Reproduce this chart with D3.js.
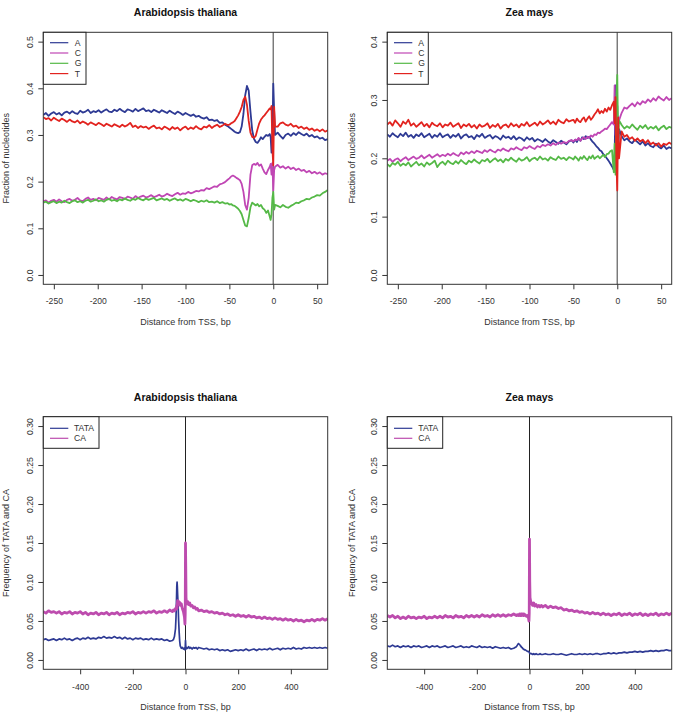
<!DOCTYPE html>
<html><head><meta charset="utf-8">
<script src="https://cdn.jsdelivr.net/npm/d3@7"></script>
<style>body{margin:0;background:#fff}svg text{font-family:"Liberation Sans",Arial,sans-serif}</style>
</head><body><svg id="c" width="681" height="712"></svg>
<script>
// ---------- data: nucleotide fractions (bp relative to TSS) ----------
const nucX = [-262,-259,-256,-253,-250,-247,-244,-241,-238,-235,-232,-229,-226,-223,-220,-217,-214,-211,-208,-205,
-202,-199,-196,-193,-190,-187,-184,-181,-178,-175,-172,-169,-166,-163,-160,-157,-154,-151,-148,-145,
-142,-139,-136,-133,-130,-127,-124,-121,-118,-115,-112,-109,-106,-103,-100,-97,-94,-91,-88,-85,
-82,-79,-76,-73,-70,-67,-64,-61,-58,-55,-52,
-50,-48,-46,-44,-42,-40,-38,-36,-34,-32,-30,-28,-26,-24,-22,-20,-18,-16,-14,-12,-10,-8,-6,-4,
-3,-2,-1,0,1,2,
5,8,11,14,17,20,23,26,29,32,35,38,41,44,47,50,53,56,59,62];
const nucLetters = ["A","C","G","T"];

const athA = [0.343,0.347,0.341,0.346,0.349,0.344,0.347,0.342,0.348,0.350,
0.346,0.351,0.347,0.345,0.352,0.348,0.350,0.354,0.347,0.351,
0.349,0.353,0.348,0.352,0.355,0.350,0.349,0.354,0.351,0.356,
0.352,0.349,0.355,0.353,0.350,0.356,0.351,0.354,0.357,0.351,
0.353,0.349,0.354,0.351,0.348,0.353,0.350,0.347,0.352,0.348,
0.345,0.350,0.347,0.343,0.347,0.344,0.341,0.344,0.339,0.341,
0.337,0.335,0.338,0.332,0.333,0.330,0.332,0.326,0.327,0.322,
0.319,
0.316,0.313,0.310,0.307,0.305,0.304,0.306,0.318,0.345,0.385,0.405,0.395,0.350,0.310,0.292,0.285,0.283,0.288,0.295,0.291,0.296,0.300,0.298,0.302,
0.295,0.262,0.300,0.410,0.350,0.300,
0.305,0.298,0.292,0.300,0.303,0.298,0.304,0.300,0.306,0.302,0.299,0.303,0.297,0.300,0.295,0.297,0.292,0.294,0.289,0.291];
const athC = [0.158,0.160,0.155,0.159,0.161,0.157,0.162,0.158,0.156,0.161,
0.163,0.159,0.161,0.165,0.160,0.158,0.163,0.166,0.161,0.163,
0.160,0.165,0.163,0.161,0.166,0.162,0.167,0.164,0.162,0.167,
0.165,0.163,0.168,0.166,0.163,0.169,0.165,0.168,0.170,0.166,
0.168,0.171,0.167,0.169,0.172,0.168,0.170,0.174,0.171,0.169,
0.173,0.176,0.172,0.175,0.174,0.178,0.175,0.177,0.180,0.179,
0.182,0.181,0.186,0.184,0.187,0.190,0.189,0.194,0.196,0.199,
0.204,
0.207,0.211,0.213,0.211,0.208,0.206,0.203,0.195,0.178,0.150,0.140,0.165,0.215,0.235,0.238,0.236,0.240,0.234,0.237,0.228,0.220,0.216,0.225,0.232,
0.238,0.215,0.240,0.180,0.225,0.232,
0.236,0.230,0.233,0.228,0.232,0.227,0.230,0.225,0.228,0.223,0.225,0.220,0.223,0.218,0.221,0.217,0.220,0.215,0.218,0.216];
const athG = [0.155,0.157,0.153,0.156,0.158,0.154,0.157,0.155,0.159,0.156,
0.154,0.158,0.160,0.156,0.158,0.155,0.159,0.161,0.157,0.159,
0.162,0.158,0.160,0.157,0.161,0.163,0.159,0.161,0.158,0.162,
0.160,0.164,0.161,0.159,0.163,0.161,0.165,0.162,0.160,0.164,
0.161,0.163,0.165,0.160,0.162,0.164,0.161,0.163,0.159,0.162,
0.164,0.160,0.162,0.159,0.163,0.161,0.158,0.161,0.159,0.156,
0.159,0.157,0.160,0.156,0.157,0.155,0.158,0.154,0.156,0.153,
0.154,
0.151,0.152,0.149,0.148,0.145,0.142,0.137,0.130,0.118,0.106,0.104,0.122,0.145,0.155,0.152,0.149,0.152,0.147,0.150,0.143,0.140,0.133,0.138,0.125,
0.118,0.130,0.165,0.178,0.140,0.150,
0.148,0.145,0.150,0.146,0.144,0.148,0.151,0.155,0.154,0.158,0.160,0.163,0.162,0.166,0.168,0.171,0.170,0.175,0.178,0.182];
const athT = [0.338,0.334,0.336,0.331,0.337,0.333,0.330,0.335,0.332,0.328,
0.333,0.329,0.327,0.331,0.325,0.329,0.326,0.322,0.327,0.324,
0.321,0.326,0.323,0.319,0.324,0.321,0.318,0.323,0.320,0.317,
0.322,0.318,0.321,0.326,0.317,0.320,0.315,0.319,0.316,0.318,
0.313,0.317,0.320,0.314,0.316,0.312,0.318,0.315,0.311,0.317,
0.313,0.316,0.310,0.315,0.318,0.312,0.316,0.313,0.319,0.314,
0.312,0.318,0.316,0.321,0.315,0.319,0.322,0.317,0.320,0.324,
0.321,
0.322,0.325,0.327,0.330,0.336,0.342,0.350,0.360,0.375,0.382,0.365,0.330,0.305,0.296,0.294,0.298,0.312,0.325,0.333,0.338,0.342,0.347,0.352,0.357,
0.355,0.362,0.270,0.235,0.360,0.318,
0.318,0.325,0.327,0.322,0.320,0.324,0.318,0.320,0.315,0.318,0.313,0.316,0.311,0.314,0.309,0.312,0.308,0.312,0.307,0.310];

const zmaA = [0.241,0.237,0.243,0.239,0.236,0.242,0.238,0.244,0.237,0.240,
0.235,0.241,0.238,0.243,0.236,0.239,0.242,0.235,0.240,0.237,
0.243,0.236,0.239,0.241,0.235,0.240,0.237,0.242,0.234,0.239,
0.241,0.236,0.238,0.233,0.240,0.237,0.242,0.235,0.238,0.240,
0.234,0.238,0.236,0.232,0.239,0.235,0.237,0.233,0.238,0.232,
0.236,0.234,0.230,0.236,0.232,0.235,0.229,0.233,0.231,0.228,
0.233,0.229,0.226,0.231,0.228,0.225,0.230,0.227,0.224,0.229,
0.231,
0.227,0.232,0.228,0.234,0.230,0.236,0.233,0.238,0.235,0.237,0.232,0.228,0.225,0.221,0.218,0.214,0.212,0.207,0.204,0.200,0.196,0.191,0.186,0.180,
0.200,0.325,0.180,0.290,0.210,0.250,
0.238,0.231,0.234,0.229,0.226,0.232,0.228,0.224,0.229,0.222,0.226,0.221,0.219,0.225,0.220,0.217,0.222,0.216,0.219,0.217];
const zmaC = [0.196,0.199,0.194,0.198,0.200,0.195,0.199,0.202,0.197,0.200,
0.203,0.199,0.201,0.205,0.200,0.203,0.206,0.201,0.204,0.207,
0.203,0.206,0.204,0.208,0.205,0.209,0.206,0.204,0.210,0.207,
0.211,0.208,0.212,0.209,0.213,0.211,0.209,0.214,0.211,0.215,
0.212,0.210,0.215,0.213,0.217,0.214,0.212,0.217,0.215,0.219,
0.216,0.214,0.219,0.217,0.221,0.218,0.216,0.221,0.219,0.223,
0.221,0.224,0.222,0.226,0.223,0.227,0.225,0.228,0.226,0.230,
0.231,
0.229,0.232,0.231,0.235,0.230,0.234,0.236,0.233,0.237,0.235,0.239,0.237,0.241,0.240,0.244,0.243,0.246,0.248,0.251,0.250,0.254,0.258,0.262,0.258,
0.325,0.240,0.300,0.200,0.270,0.265,
0.278,0.287,0.285,0.290,0.294,0.289,0.296,0.292,0.298,0.295,0.301,0.297,0.303,0.299,0.306,0.302,0.299,0.305,0.300,0.303];
const zmaG = [0.190,0.186,0.192,0.189,0.194,0.187,0.191,0.188,0.193,0.186,
0.190,0.194,0.188,0.191,0.186,0.193,0.189,0.192,0.196,0.185,
0.191,0.194,0.189,0.196,0.192,0.190,0.195,0.191,0.197,0.193,
0.190,0.196,0.193,0.198,0.194,0.191,0.197,0.195,0.199,0.193,
0.197,0.200,0.195,0.198,0.193,0.199,0.196,0.201,0.197,0.194,
0.200,0.196,0.198,0.202,0.195,0.199,0.201,0.197,0.203,0.198,
0.200,0.196,0.202,0.199,0.197,0.203,0.199,0.201,0.197,0.202,
0.200,
0.198,0.203,0.200,0.196,0.202,0.199,0.204,0.200,0.197,0.203,0.200,0.205,0.199,0.202,0.204,0.200,0.203,0.206,0.202,0.207,0.208,0.212,0.214,0.176,
0.225,0.172,0.300,0.343,0.230,0.265,
0.257,0.251,0.255,0.252,0.258,0.253,0.249,0.256,0.252,0.257,0.250,0.254,0.251,0.255,0.248,0.253,0.256,0.250,0.254,0.252];
const zmaT = [0.258,0.262,0.256,0.265,0.260,0.254,0.263,0.259,0.266,0.256,
0.260,0.254,0.258,0.262,0.255,0.259,0.253,0.261,0.257,0.255,
0.260,0.253,0.258,0.256,0.261,0.254,0.257,0.260,0.252,0.258,
0.255,0.259,0.253,0.257,0.251,0.258,0.254,0.256,0.260,0.252,
0.257,0.254,0.259,0.251,0.256,0.258,0.253,0.260,0.255,0.258,
0.253,0.259,0.256,0.262,0.255,0.258,0.261,0.256,0.263,0.258,
0.261,0.265,0.259,0.263,0.258,0.266,0.262,0.260,0.267,0.263,
0.265,
0.266,0.261,0.268,0.264,0.262,0.267,0.270,0.263,0.268,0.272,0.266,0.270,0.275,0.279,0.284,0.277,0.281,0.278,0.285,0.280,0.287,0.283,0.291,0.297,
0.260,0.305,0.190,0.145,0.270,0.200,
0.246,0.237,0.240,0.233,0.236,0.230,0.234,0.229,0.232,0.226,0.231,0.224,0.227,0.222,0.226,0.220,0.225,0.223,0.227,0.224];

// ---------- data: TATA / CA frequencies ----------
const motifX = [-540,-530,-520,-510,-500,-490,-480,-470,-460,-450,-440,-430,-420,-410,-400,-390,-380,-370,-360,-350,
-340,-330,-320,-310,-300,-290,-280,-270,-260,-250,-240,-230,-220,-210,-200,-190,-180,-170,-160,-150,
-140,-130,-120,-110,-100,-90,-80,-70,-60,-50,
-46,-42,-38,-36,-34,-33,-32,-31,-30,-28,-26,-24,-22,-20,-16,-12,-8,-4,-2,-1,0,1,2,4,8,12,16,20,25,30,35,40,45,
50,60,70,80,90,100,110,120,130,140,150,160,170,180,190,200,210,220,230,240,
250,260,270,280,290,300,310,320,330,340,350,360,370,380,390,400,410,420,430,440,
450,460,470,480,490,500,510,520,530,540];
const motifNames = ["TATA","CA"];

const athTATA = [0.026,0.027,0.025,0.026,0.027,0.025,0.027,0.026,0.028,0.026,0.027,0.025,0.027,0.028,0.026,0.028,0.027,0.029,0.027,0.028,
0.027,0.029,0.028,0.030,0.028,0.029,0.028,0.030,0.028,0.029,0.027,0.029,0.027,0.028,0.026,0.028,0.027,0.028,0.026,0.027,
0.026,0.028,0.026,0.027,0.026,0.027,0.025,0.026,0.024,0.025,
0.026,0.030,0.040,0.055,0.080,0.095,0.100,0.094,0.085,0.070,0.050,0.035,0.024,0.018,0.015,0.016,0.014,0.015,0.013,0.016,0.025,0.018,0.014,0.016,0.015,0.017,0.015,0.016,0.014,0.016,0.015,0.016,0.014,
0.016,0.015,0.014,0.015,0.013,0.014,0.013,0.014,0.012,0.013,0.012,0.013,0.011,0.012,0.013,0.012,0.013,0.012,0.014,0.012,
0.013,0.014,0.012,0.014,0.013,0.014,0.013,0.015,0.013,0.014,0.015,0.013,0.015,0.014,0.015,0.014,0.016,0.014,0.015,0.014,
0.016,0.015,0.016,0.015,0.016,0.015,0.016,0.015,0.016,0.015];
const athCA = [0.062,0.060,0.063,0.061,0.062,0.060,0.062,0.059,0.061,0.060,0.062,0.059,0.061,0.060,0.062,0.059,0.061,0.058,0.060,0.059,
0.061,0.058,0.060,0.059,0.061,0.058,0.060,0.059,0.061,0.058,0.060,0.059,0.061,0.060,0.062,0.059,0.061,0.060,0.062,0.060,
0.062,0.061,0.063,0.060,0.062,0.061,0.063,0.061,0.064,0.062,
0.064,0.063,0.066,0.065,0.068,0.070,0.066,0.072,0.076,0.072,0.075,0.071,0.074,0.070,0.072,0.066,0.062,0.055,0.046,0.060,0.150,0.120,0.080,0.072,0.075,0.071,0.073,0.069,0.070,0.067,0.068,0.065,0.066,
0.063,0.064,0.062,0.063,0.061,0.062,0.060,0.061,0.059,0.060,0.058,0.059,0.057,0.058,0.056,0.058,0.056,0.057,0.055,0.057,
0.055,0.056,0.054,0.055,0.053,0.055,0.053,0.054,0.052,0.054,0.052,0.053,0.051,0.053,0.051,0.052,0.050,0.052,0.050,0.051,
0.049,0.051,0.050,0.052,0.050,0.052,0.051,0.053,0.051,0.053];
const zmaTATA = [0.018,0.017,0.019,0.017,0.018,0.016,0.018,0.017,0.018,0.016,0.018,0.017,0.018,0.016,0.017,0.018,0.016,0.018,0.017,0.018,
0.016,0.017,0.018,0.016,0.017,0.018,0.016,0.017,0.018,0.016,0.017,0.016,0.018,0.017,0.016,0.018,0.016,0.017,0.016,0.017,
0.015,0.017,0.016,0.015,0.016,0.015,0.016,0.014,0.015,0.017,
0.019,0.021,0.020,0.019,0.018,0.018,0.017,0.017,0.016,0.016,0.015,0.014,0.014,0.013,0.013,0.012,0.011,0.011,0.010,0.010,0.009,0.009,0.008,0.008,0.008,0.007,0.008,0.007,0.008,0.007,0.007,0.008,0.007,
0.007,0.008,0.007,0.007,0.008,0.007,0.007,0.008,0.007,0.006,0.007,0.008,0.007,0.007,0.008,0.007,0.008,0.007,0.008,0.007,
0.008,0.008,0.007,0.008,0.008,0.009,0.008,0.009,0.008,0.009,0.009,0.010,0.009,0.010,0.010,0.011,0.010,0.011,0.010,0.011,
0.011,0.012,0.011,0.012,0.011,0.012,0.012,0.013,0.012,0.012];
const zmaCA = [0.057,0.055,0.057,0.054,0.056,0.053,0.055,0.053,0.056,0.054,0.055,0.053,0.055,0.054,0.056,0.053,0.055,0.054,0.056,0.054,
0.056,0.054,0.057,0.055,0.056,0.054,0.057,0.055,0.056,0.054,0.057,0.055,0.057,0.055,0.057,0.055,0.058,0.056,0.057,0.055,
0.058,0.056,0.058,0.056,0.058,0.056,0.058,0.057,0.059,0.057,
0.058,0.057,0.059,0.057,0.058,0.057,0.059,0.058,0.057,0.059,0.058,0.057,0.059,0.057,0.058,0.056,0.057,0.054,0.050,0.060,0.155,0.100,0.080,0.076,0.072,0.070,0.073,0.069,0.071,0.068,0.070,0.068,0.070,
0.068,0.070,0.067,0.069,0.067,0.068,0.066,0.067,0.064,0.065,0.063,0.064,0.062,0.063,0.061,0.062,0.060,0.061,0.059,0.061,
0.059,0.060,0.058,0.060,0.058,0.059,0.057,0.059,0.058,0.060,0.057,0.059,0.058,0.060,0.057,0.059,0.058,0.060,0.057,0.059,
0.057,0.059,0.058,0.060,0.057,0.059,0.058,0.060,0.058,0.060];

// ---------- tick values ----------
const nucTicksX = [-250,-200,-150,-100,-50,0,50];
const athNucTicksY = [0,0.1,0.2,0.3,0.4,0.5];
const zmaNucTicksY = [0,0.1,0.2,0.3,0.4];
const motifTicksX = [-400,-200,0,200,400];
const motifTicksY = [0,0.05,0.10,0.15,0.20,0.25,0.30];

// ---------- drawing ----------
const COL = {A:"#2e3a94", C:"#c046b4", G:"#55b947", T:"#e2231f", TATA:"#2e3a94", CA:"#bd4cae"};
const svg = d3.select("#c");

function check(xs, arrs){ arrs.forEach(a=>{ if(a.length!==xs.length) throw new Error("length mismatch "+a.length+" vs "+xs.length); }); }
check(nucX,[athA,athC,athG,athT,zmaA,zmaC,zmaG,zmaT]);
check(motifX,[athTATA,athCA,zmaTATA,zmaCA]);

function drawPanel(o){
  const {L,R,T,B} = o.box;
  const x = d3.scaleLinear().domain(o.xDomain).range([L,R]);
  const y = d3.scaleLinear().domain(o.yDomain).range([B,T]);
  const cid = "clip"+o.id;
  svg.append("clipPath").attr("id",cid).append("rect").attr("x",L).attr("y",T).attr("width",R-L).attr("height",B-T);
  const g = svg.append("g");
  g.append("line").attr("x1",x(0)).attr("x2",x(0)).attr("y1",T).attr("y2",B)
    .attr("stroke",o.zeroColor).attr("stroke-width",o.zeroWidth);
  const line = d3.line().x((d,i)=>x(o.xs[i])).y(d=>y(d));
  const pg = g.append("g").attr("clip-path",`url(#${cid})`);
  o.series.forEach(s=>{
    pg.append("path").attr("d",line(s.values)).attr("fill","none")
      .attr("stroke",s.color).attr("stroke-width",s.width).attr("stroke-linejoin","round");
  });
  g.append("rect").attr("x",L).attr("y",T).attr("width",R-L).attr("height",B-T)
    .attr("fill","none").attr("stroke","#333").attr("stroke-width",1);
  const xa = g.append("g").attr("transform",`translate(0,${B})`)
    .call(d3.axisBottom(x).tickValues(o.xTicks).tickSize(5).tickSizeOuter(0).tickPadding(o.xPad).tickFormat(d=>String(d)));
  xa.select(".domain").remove();
  xa.selectAll("line").attr("stroke","#333");
  xa.selectAll("text").attr("font-size",8.6).attr("fill","#333").attr("font-family","Liberation Sans, Arial, sans-serif");
  const ya = g.append("g").attr("transform",`translate(${L},0)`)
    .call(d3.axisLeft(y).tickValues(o.yTicks).tickSize(5).tickSizeOuter(0).tickFormat(o.yFmt));
  ya.select(".domain").remove();
  ya.selectAll("line").attr("stroke","#333");
  ya.selectAll("text").attr("transform","rotate(-90)").attr("x",0).attr("y",-10.5).attr("dy",0)
    .attr("text-anchor","middle").attr("font-size",8.6).attr("fill","#333").attr("font-family","Liberation Sans, Arial, sans-serif");
  const cx = (L+R)/2;
  g.append("text").attr("x",cx).attr("y",o.titleY).attr("text-anchor","middle")
    .attr("font-size",10.5).attr("font-weight","bold").attr("fill","#111").text(o.title);
  g.append("text").attr("x",cx).attr("y",o.xlabY).attr("text-anchor","middle")
    .attr("font-size",9).attr("fill","#333").text("Distance from TSS, bp");
  g.append("text").attr("transform",`translate(${o.ylabX},${(T+B)/2}) rotate(-90)`).attr("text-anchor","middle")
    .attr("font-size",9).attr("fill","#333").text(o.ylab);
  const lg = g.append("g").attr("transform",`translate(${L},${T})`);
  lg.append("rect").attr("x",0).attr("y",0).attr("width",o.legW).attr("height",o.legH)
    .attr("fill","#fff").attr("stroke","#222").attr("stroke-width",1);
  o.series.forEach((s,i)=>{
    const ry = o.legRow0 + i*o.legStep;
    lg.append("line").attr("x1",6.7).attr("x2",25).attr("y1",ry).attr("y2",ry)
      .attr("stroke",s.color).attr("stroke-width",1.2);
    lg.append("text").attr("x",o.legTextX).attr("y",ry).attr("dy","0.35em")
      .attr("font-size",8.6).attr("fill","#333").text(s.name);
  });
}

const topBox = (L)=>({L:L, R:L+284.4, T:32.3, B:284.3});
const botBox = (L)=>({L:L, R:L+284.4, T:416.7, B:669.3});

function nucSeries(vals){ return nucLetters.map((n,i)=>({name:n, color:COL[n], width:1.8, values:vals[i]})); }
function motifSeries(vals){ return motifNames.map((n,i)=>({name:n, color:COL[n], width:i===1?2.8:1.7, values:vals[i]})); }

drawPanel({id:1, box:topBox(43.3), xs:nucX, xDomain:[-262,62], yDomain:[-0.02,0.52],
  xTicks:nucTicksX, yTicks:athNucTicksY, yFmt:d=>d.toFixed(1), xPad:8.4,
  series:nucSeries([athA,athC,athG,athT]), zeroColor:"#7a7a7a", zeroWidth:1.5,
  title:"Arabidopsis thaliana", titleY:15.5, xlabY:325, ylab:"Fraction of nucleotides", ylabX:9,
  legW:42.7, legH:52, legRow0:10.4, legStep:10.3, legTextX:31.5});
drawPanel({id:2, box:topBox(387.3), xs:nucX, xDomain:[-262,62], yDomain:[-0.016,0.416],
  xTicks:nucTicksX, yTicks:zmaNucTicksY, yFmt:d=>d.toFixed(1), xPad:8.4,
  series:nucSeries([zmaA,zmaC,zmaG,zmaT]), zeroColor:"#7a7a7a", zeroWidth:1.5,
  title:"Zea mays", titleY:15.5, xlabY:325, ylab:"Fraction of nucleotides", ylabX:355,
  legW:41, legH:52, legRow0:10.4, legStep:10.3, legTextX:31});
drawPanel({id:3, box:botBox(43.3), xs:motifX, xDomain:[-540,540], yDomain:[-0.012,0.312],
  xTicks:motifTicksX, yTicks:motifTicksY, yFmt:d=>d.toFixed(2), xPad:9.4,
  series:motifSeries([athTATA,athCA]), zeroColor:"#222", zeroWidth:1,
  title:"Arabidopsis thaliana", titleY:400.5, xlabY:710, ylab:"Frequency of TATA and CA", ylabX:9,
  legW:55.7, legH:31.6, legRow0:11.6, legStep:10, legTextX:30.7});
drawPanel({id:4, box:botBox(387.3), xs:motifX, xDomain:[-540,540], yDomain:[-0.012,0.312],
  xTicks:motifTicksX, yTicks:motifTicksY, yFmt:d=>d.toFixed(2), xPad:9.4,
  series:motifSeries([zmaTATA,zmaCA]), zeroColor:"#222", zeroWidth:1,
  title:"Zea mays", titleY:400.5, xlabY:710, ylab:"Frequency of TATA and CA", ylabX:355,
  legW:55.4, legH:31.6, legRow0:11.6, legStep:10, legTextX:31});
</script></body></html>
